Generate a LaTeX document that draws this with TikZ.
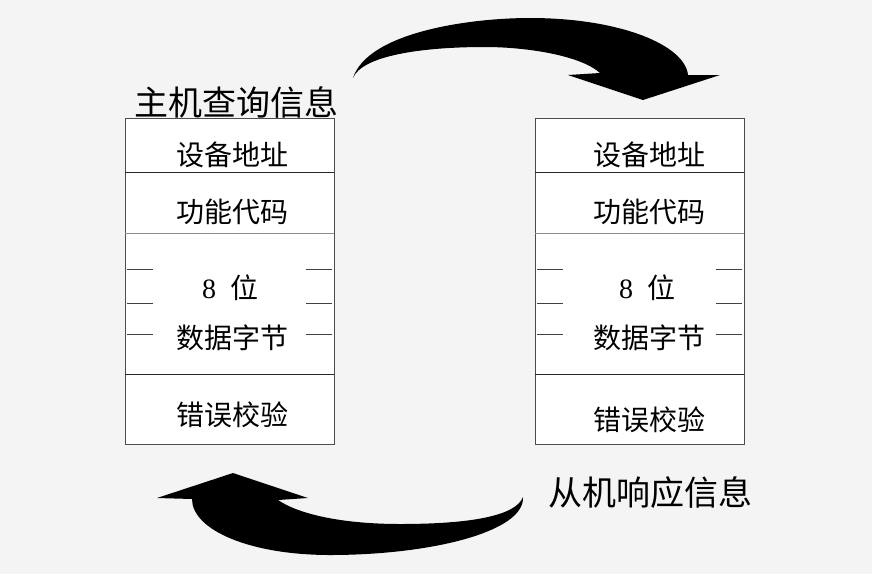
\documentclass[tikz,border=0pt]{standalone}
\usepackage{fontspec}
\setmainfont{Liberation Serif}
\newfontfamily\cjk{Noto Sans CJK SC}
\usetikzlibrary{calc}
\definecolor{bgpaper}{HTML}{F4F4F4}
\tikzset{
  fld/.style={font=\cjk\fontsize{28}{30}\selectfont,inner sep=0pt},   % field text
  ttl/.style={font=\cjk\fontsize{34}{36}\selectfont,inner sep=0pt},   % caption
  frm/.style={draw=black!70,fill=white,line width=1pt},                % frame
  sepline/.style={draw=black!85,line width=1pt},
  sepgray/.style={draw=black!45,line width=1pt},
  tick/.style={draw=black!75,line width=0.8pt},
  bigarr/.style={fill=black},
}
\begin{document}
\begin{tikzpicture}[x=1pt,y=-1pt]
  \fill[bgpaper] (0,0) rectangle (872,574);
  \useasboundingbox (0,0) rectangle (872,574);
  % the two message frames
  \foreach \bx/\dx/\ey/\nm in {125/3/415/q,535/10/420/r}{
    \draw[frm] (\bx,118) rectangle ++(209,326);
    \draw[sepline] (\bx,172) -- ++(209,0);
    \draw[sepgray] (\bx,233) -- ++(209,0);
    \draw[sepline] (\bx,374) -- ++(209,0);
    \foreach \y in {269,303,334}{
      \draw[tick] (\bx+2,\y) -- ++(26,0);
      \draw[tick] (\bx+181,\y) -- ++(26,0);
    }
    \node[fld] (\nm-addr) at (\bx+104.5+\dx,155) {设备地址};
    \node[fld] (\nm-func) at (\bx+104.5+\dx,212) {功能代码};
    \node[fld] (\nm-bits) at (\bx+102+\dx,288) {{\rmfamily 8}\hspace{14pt}位};
    \node[fld] (\nm-data) at (\bx+104.5+\dx,338) {数据字节};
    \node[fld] (\nm-crc)  at (\bx+104.5+\dx,\ey) {错误校验};
  }
  \node[ttl] (query) at (236,102) {主机查询信息};
  \node[ttl] (reply) at (650,493) {从机响应信息};
  % query arrow, top
  \fill[bigarr] (353,78) .. controls (368,32) and (470,18) .. (530,18)
    .. controls (620,18) and (685,45) .. (688,75) -- (720,75) -- (643,100)
    -- (568,75) -- (600,73) .. controls (580,55) and (525,47) .. (485,47)
    .. controls (420,47) and (362,56) .. (353,78) -- cycle;
  % reply arrow, bottom
  \fill[bigarr] (523,497) .. controls (525,532) and (430,555) .. (330,555)
    .. controls (250,555) and (192,530) .. (192,499) -- (157,498) -- (233,473)
    -- (308,498) -- (278,500) .. controls (300,515) and (345,524) .. (400,524)
    .. controls (470,524) and (516,516) .. (523,497) -- cycle;
\end{tikzpicture}
\end{document}
